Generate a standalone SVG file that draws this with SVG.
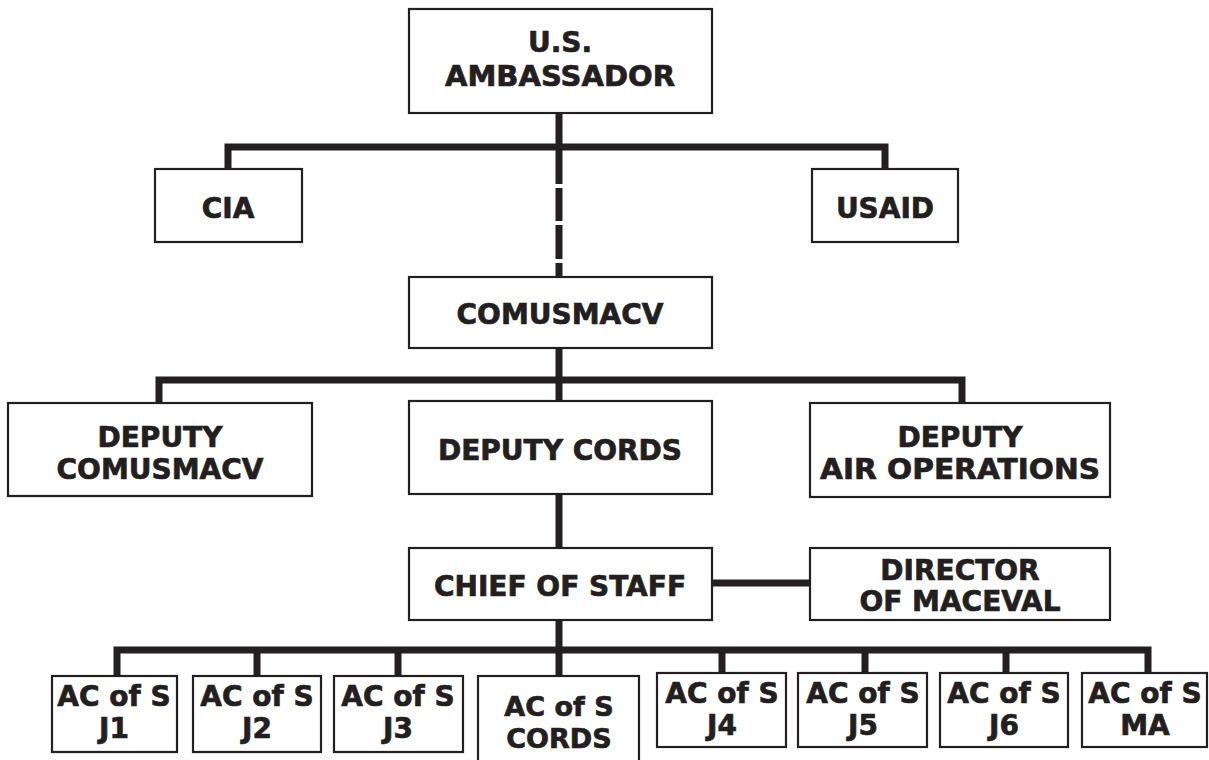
<svg xmlns="http://www.w3.org/2000/svg" width="1209" height="760" viewBox="0 0 1209 760">
<style>
.box{fill:#fff;stroke:#231f20;stroke-width:2.2}
.c{fill:none;stroke:#231f20;stroke-width:7;stroke-linejoin:miter;stroke-linecap:butt}
text{font-family:"DejaVu Sans","Liberation Sans",sans-serif;font-weight:bold;font-size:28px;fill:#231f20;stroke:#231f20;stroke-width:0.7;text-anchor:middle}
.s{font-size:27px}
</style>
<rect width="1209" height="760" fill="#fff"/>
<g id="connectors">
<path class="c" d="M559,113V184M559,188V221M559,225V259M559,263V277"/>
<path class="c" d="M228,169V147H885V169"/>
<path class="c" d="M559,348V380"/>
<path class="c" d="M159,403V380H962V403"/>
<path class="c" d="M559,380V401"/>
<path class="c" d="M559,494V548"/>
<path class="c" d="M712,583H810"/>
<path class="c" d="M559,620V676"/>
<path class="c" d="M117,676V650H1148V676"/>
<path class="c" d="M257,676V650M398,676V650M722,673V650M865,673V650M1006,673V650"/>
</g>
<g id="ambassador"><rect class="box" x="409" y="9" width="303" height="104"/><text x="560" y="52">U.S.</text><text x="560" y="86" textLength="230" lengthAdjust="spacingAndGlyphs">AMBASSADOR</text></g>
<g id="cia"><rect class="box" x="155" y="169" width="147" height="73"/><text x="228" y="218">CIA</text></g>
<g id="usaid"><rect class="box" x="812" y="169" width="146" height="73"/><text x="885" y="218">USAID</text></g>
<g id="comusmacv"><rect class="box" x="409" y="277" width="303" height="71"/><text x="560" y="324">COMUSMACV</text></g>
<g id="deputy-comusmacv"><rect class="box" x="8" y="403" width="304" height="93"/><text x="160" y="447">DEPUTY</text><text x="160" y="479">COMUSMACV</text></g>
<g id="deputy-cords"><rect class="box" x="409" y="401" width="303" height="93"/><text x="560" y="460">DEPUTY CORDS</text></g>
<g id="deputy-air"><rect class="box" x="810" y="403" width="300" height="94"/><text x="960" y="447">DEPUTY</text><text x="960" y="479" textLength="280" lengthAdjust="spacingAndGlyphs">AIR OPERATIONS</text></g>
<g id="chief-of-staff"><rect class="box" x="409" y="548" width="303" height="72"/><text x="560" y="596">CHIEF OF STAFF</text></g>
<g id="director-maceval"><rect class="box" x="810" y="548" width="300" height="72"/><text x="960" y="580">DIRECTOR</text><text x="960" y="611">OF MACEVAL</text></g>
<g id="j1"><rect class="box" x="52" y="676" width="125" height="76"/><text x="114" y="706">AC of S</text><text x="114" y="738">J1</text></g>
<g id="j2"><rect class="box" x="193" y="676" width="128" height="76"/><text x="257" y="706">AC of S</text><text x="257" y="738">J2</text></g>
<g id="j3"><rect class="box" x="334" y="676" width="129" height="76"/><text x="398" y="706">AC of S</text><text x="398" y="738">J3</text></g>
<g id="cords"><rect class="box" x="478" y="676" width="161" height="90"/><text class="s" x="559" y="716">AC of S</text><text class="s" x="559" y="748">CORDS</text></g>
<g id="j4"><rect class="box" x="657" y="673" width="129" height="74"/><text x="722" y="703">AC of S</text><text x="722" y="735">J4</text></g>
<g id="j5"><rect class="box" x="798" y="673" width="129" height="74"/><text x="863" y="703">AC of S</text><text x="863" y="735">J5</text></g>
<g id="j6"><rect class="box" x="940" y="673" width="128" height="74"/><text x="1004" y="703">AC of S</text><text x="1004" y="735">J6</text></g>
<g id="ma"><rect class="box" x="1082" y="673" width="125" height="74"/><text x="1145" y="703">AC of S</text><text x="1145" y="735">MA</text></g>
</svg>
